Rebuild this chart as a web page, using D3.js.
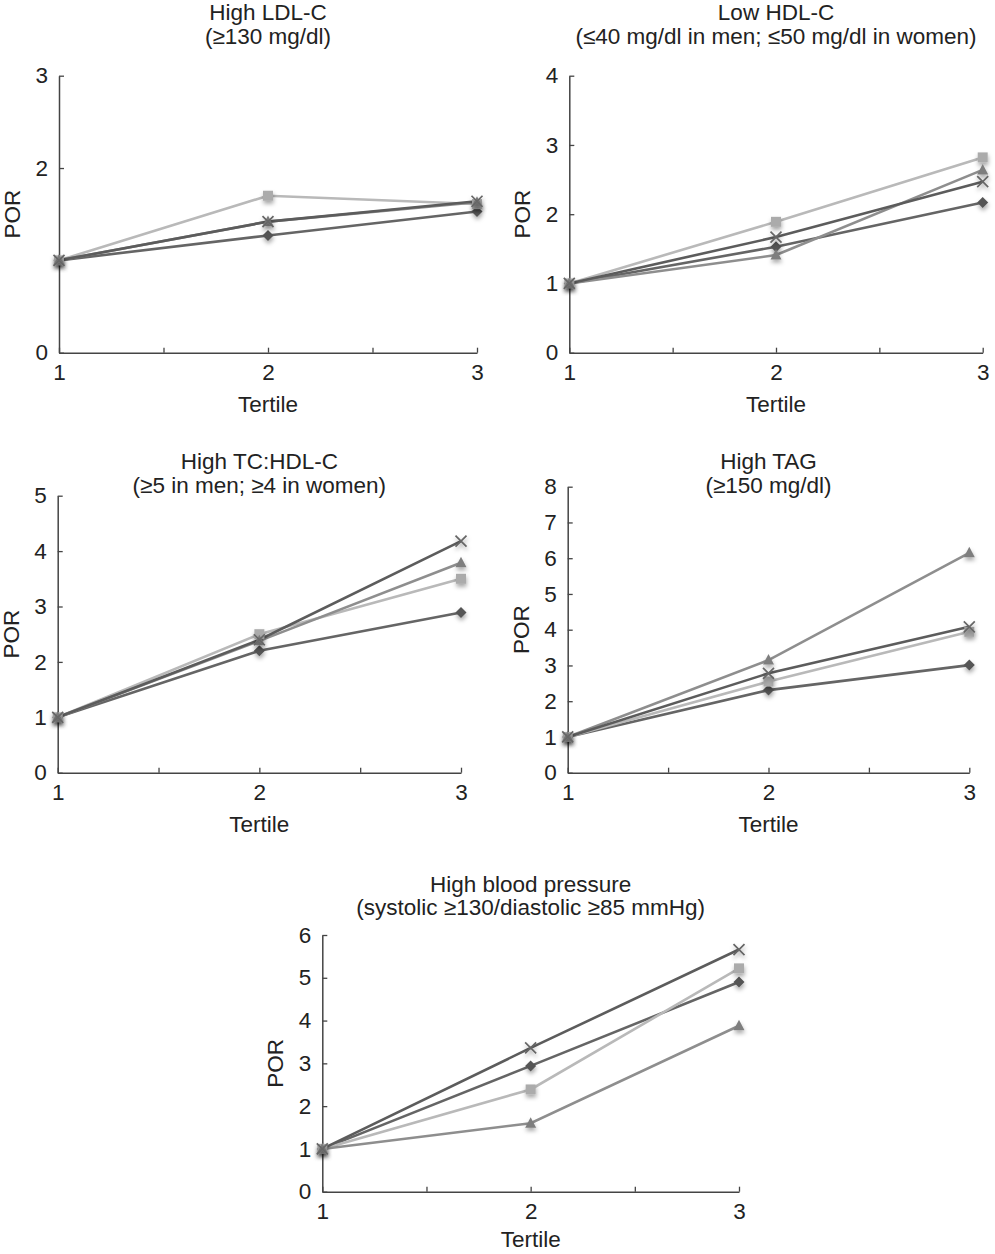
<!DOCTYPE html>
<html>
<head>
<meta charset="utf-8">
<script src="https://cdn.jsdelivr.net/npm/d3@7"></script>
<style>
  html, body { margin: 0; padding: 0; background: #fff; }
  svg { display: block; }
  text { font-family: "Liberation Sans", Arial, Helvetica, sans-serif; fill: #222; }
</style>
</head>
<body>
<svg id="chart" width="995" height="1254"></svg>
<script>
// ---------- data ----------
const tertiles = [1, 2, 3];
const seriesNames = ["diamond", "square", "triangle", "cross"];

const titles = [
  ["High LDL-C", "(\u2265130 mg/dl)"],
  ["Low HDL-C", "(\u226440 mg/dl in men; \u226450 mg/dl in women)"],
  ["High TC:HDL-C", "(\u22655 in men; \u22654 in women)"],
  ["High TAG", "(\u2265150 mg/dl)"],
  ["High blood pressure", "(systolic \u2265130/diastolic \u226585 mmHg)"]
];

const yMax = [3, 4, 5, 8, 6];
const yTickLabels = [
  [0, 2, 3],
  [0, 1, 2, 3, 4],
  [0, 1, 2, 3, 4, 5],
  [0, 1, 2, 3, 4, 5, 6, 7, 8],
  [0, 1, 2, 3, 4, 5, 6]
];

// values per panel: diamond, square, triangle, cross
const ldlDiamond  = [1, 1.27, 1.53];
const ldlSquare   = [1, 1.70, 1.61];
const ldlTriangle = [1, 1.42, 1.63];
const ldlCross    = [1, 1.42, 1.64];

const hdlDiamond  = [1, 1.53, 2.17];
const hdlSquare   = [1, 1.89, 2.82];
const hdlTriangle = [1, 1.41, 2.64];
const hdlCross    = [1, 1.67, 2.47];

const tcDiamond   = [1, 2.20, 2.89];
const tcSquare    = [1, 2.50, 3.50];
const tcTriangle  = [1, 2.38, 3.79];
const tcCross     = [1, 2.40, 4.18];

const tagDiamond  = [1, 2.31, 3.01];
const tagSquare   = [1, 2.55, 3.94];
const tagTriangle = [1, 3.15, 6.15];
const tagCross    = [1, 2.78, 4.08];

const bpDiamond   = [1, 2.94, 4.90];
const bpSquare    = [1, 2.39, 5.22];
const bpTriangle  = [1, 1.60, 3.88];
const bpCross     = [1, 3.36, 5.66];

const panelValues = [
  [ldlDiamond, ldlSquare, ldlTriangle, ldlCross],
  [hdlDiamond, hdlSquare, hdlTriangle, hdlCross],
  [tcDiamond, tcSquare, tcTriangle, tcCross],
  [tagDiamond, tagSquare, tagTriangle, tagCross],
  [bpDiamond, bpSquare, bpTriangle, bpCross]
];

// ---------- layout ----------
const layout = [
  { x0: 59,    x1: 477,   yTop: 75.7,  yBot: 352.7,  t1: 20,  t2: 44,  xl: 59 },
  { x0: 569.3, x1: 982.7, yTop: 75.7,  yBot: 352.7,  t1: 20,  t2: 44,  xl: 59 },
  { x0: 57.7,  x1: 461,   yTop: 495.7, yBot: 772.7,  t1: 469, t2: 493, xl: 59 },
  { x0: 567.7, x1: 969.3, yTop: 486.7, yBot: 772.7,  t1: 469, t2: 493, xl: 59 },
  { x0: 322.3, x1: 739,   yTop: 935,   yBot: 1191.7, t1: 892, t2: 915, xl: 55 }
];

const lineColor   = { diamond: "#656565", square: "#b9b9b9", triangle: "#8e8e8e", cross: "#5c5c5c" };
const markerColor = { diamond: "#555555", square: "#ababab", triangle: "#7e7e7e", cross: "#666666" };

const svg = d3.select("#chart");
const defs = svg.append("defs");
const f = defs.append("filter").attr("id", "shadow")
  .attr("x", "-100%").attr("y", "-100%").attr("width", "300%").attr("height", "300%");
f.append("feDropShadow").attr("dx", 0.5).attr("dy", 3).attr("stdDeviation", 2)
  .attr("flood-color", "#000").attr("flood-opacity", 0.35);

const FS = 22.5;

layout.forEach((L, i) => {
  const x = d3.scaleLinear().domain([1, 3]).range([L.x0, L.x1]);
  const y = d3.scaleLinear().domain([0, yMax[i]]).range([L.yBot, L.yTop]);
  const g = svg.append("g");
  const cx = (L.x0 + L.x1) / 2;

  // titles
  g.append("text").attr("x", cx).attr("y", L.t1).attr("text-anchor", "middle")
    .attr("font-size", FS).text(titles[i][0]);
  g.append("text").attr("x", cx).attr("y", L.t2).attr("text-anchor", "middle")
    .attr("font-size", FS).text(titles[i][1]);

  // y axis
  const yAxis = d3.axisLeft(y)
    .tickValues(d3.range(0, yMax[i] + 1))
    .tickSizeInner(-5).tickSizeOuter(0).tickPadding(11)
    .tickFormat(d => yTickLabels[i].includes(d) ? d : "");
  const ya = g.append("g").attr("transform", `translate(${L.x0},0)`).call(yAxis);

  // x axis
  const xAxis = d3.axisBottom(x)
    .tickValues([1, 1.5, 2, 2.5, 3])
    .tickSizeInner(-5).tickSizeOuter(0).tickPadding(11)
    .tickFormat(d => Number.isInteger(d) ? d : "");
  const xa = g.append("g").attr("transform", `translate(0,${L.yBot})`).call(xAxis);

  [ya, xa].forEach(a => {
    a.select(".domain").attr("stroke", "#444").attr("stroke-width", 1.5);
    a.selectAll(".tick line").attr("stroke", "#444").attr("stroke-width", 1.3);
    a.selectAll(".tick text").attr("font-size", FS).attr("fill", "#222")
      .attr("font-family", "'Liberation Sans', Arial, sans-serif");
  });

  // axis labels
  g.append("text").attr("x", cx).attr("y", L.yBot + L.xl).attr("text-anchor", "middle")
    .attr("font-size", FS).text("Tertile");
  g.append("text")
    .attr("transform", `translate(${L.x0 - 39},${(L.yTop + L.yBot) / 2}) rotate(-90)`)
    .attr("text-anchor", "middle").attr("font-size", FS).text("POR");

  // series
  const line = d3.line().x((d, j) => x(tertiles[j])).y(d => y(d));
  seriesNames.forEach((name, s) => {
    const vals = panelValues[i][s];
    g.append("path").datum(vals)
      .attr("d", line).attr("fill", "none")
      .attr("stroke", lineColor[name]).attr("stroke-width", 2.6);
  });
  seriesNames.forEach((name, s) => {
    const vals = panelValues[i][s];
    const mg = g.append("g").attr("filter", "url(#shadow)");
    vals.forEach((v, j) => {
      const px = x(tertiles[j]), py = y(v);
      if (name === "diamond") {
        mg.append("path").attr("d", `M${px},${py - 5.5}L${px + 5.5},${py}L${px},${py + 5.5}L${px - 5.5},${py}Z`)
          .attr("fill", markerColor[name]);
      } else if (name === "square") {
        mg.append("rect").attr("x", px - 5).attr("y", py - 5).attr("width", 10).attr("height", 10)
          .attr("fill", markerColor[name]);
      } else if (name === "triangle") {
        mg.append("path").attr("d", `M${px},${py - 6}L${px + 5.5},${py + 4.5}L${px - 5.5},${py + 4.5}Z`)
          .attr("fill", markerColor[name]);
      } else {
        mg.append("path").attr("d", `M${px - 5.5},${py - 5.5}L${px + 5.5},${py + 5.5}M${px + 5.5},${py - 5.5}L${px - 5.5},${py + 5.5}`)
          .attr("stroke", markerColor[name]).attr("stroke-width", 1.7).attr("fill", "none");
      }
    });
  });
});
</script>
</body>
</html>
